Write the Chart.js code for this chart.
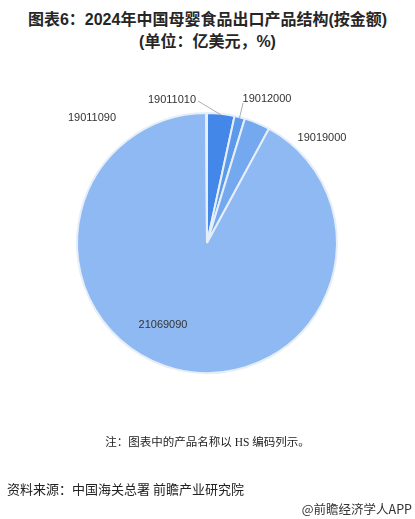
<!DOCTYPE html>
<html>
<head>
<meta charset="utf-8">
<script src="https://cdn.jsdelivr.net/npm/chart.js@4/dist/chart.umd.min.js"></script>
<style>
  body { margin: 0; background: #fff; }
  #wrap { position: relative; width: 415px; height: 519px; overflow: hidden; }
  #pie { position: absolute; left: 0; top: 0; }
  .title { position: absolute; left: 0; width: 415px; text-align: center;
    font-family: "Liberation Sans", "Noto Sans CJK SC", sans-serif; font-weight: bold;
    font-size: 16px; color: #262626; }
  .note { position: absolute; left: 0; width: 415px; text-align: center; top: 433px;
    font-family: "Liberation Serif", "Noto Sans CJK SC", serif; font-size: 11.5px; color: #222; }
  .src { position: absolute; left: 7px; top: 479px; font-family: "Noto Sans CJK SC", sans-serif;
    font-size: 13px; color: #222; }
  .app { position: absolute; right: 3px; top: 499px; font-family: "Noto Sans CJK SC", sans-serif;
    font-size: 12.5px; color: #333; }
</style>
</head>
<body>
<div id="wrap">
  <div class="title" style="top:6px">图表6：2024年中国母婴食品出口产品结构(按金额)</div>
  <div class="title" style="top:28px">(单位：亿美元，%)</div>
  <canvas id="pie" width="415" height="519"></canvas>
  <div class="note">注：图表中的产品名称以 HS 编码列示。</div>
  <div class="src">资料来源：中国海关总署 前瞻产业研究院</div>
  <div class="app">@前瞻经济学人APP</div>
</div>
<script>
// HS codes, clockwise from 12 o'clock
const categories = ['19011010', '19012000', '19019000', '21069090', '19011090'];
// share of export value, %
const shares = [3.4, 1.3, 3.2, 92.0, 0.1];
const sliceColors = ['#4388e8', '#5b99eb', '#74a9ef', '#8fb9f2', '#8fb9f2'];

// where each label sits, and whether it gets a leader line
const labelSpots = [
    { x: 172, y: 100, line: true },
    { x: 267, y: 99, line: true },
    { x: 322, y: 138, line: false },
    { x: 163, y: 325, line: false },
    { x: 92, y: 118, line: false }
];

const labelPlugin = {
    id: 'sliceLabels',
    afterDatasetsDraw(chart) {
        const ctx = chart.ctx;
        const arcs = chart.getDatasetMeta(0).data;
        ctx.save();
        ctx.font = '11px "Liberation Sans", Arial, sans-serif';
        ctx.fillStyle = '#333';
        ctx.textAlign = 'center';
        ctx.textBaseline = 'middle';
        arcs.forEach((arc, i) => {
            const spot = labelSpots[i];
            ctx.fillText(categories[i], spot.x, spot.y);
            if (spot.line) {
                const p = arc.getProps(['x', 'y', 'startAngle', 'endAngle', 'outerRadius'], true);
                const mid = (p.startAngle + p.endAngle) / 2;
                const ex = p.x + Math.cos(mid) * (p.outerRadius - 1);
                const ey = p.y + Math.sin(mid) * (p.outerRadius - 1);
                const sx = i === 0 ? spot.x + 26 : spot.x - 24;
                const sy = i === 0 ? spot.y + 1 : spot.y + 4;
                ctx.strokeStyle = '#999';
                ctx.lineWidth = 0.8;
                ctx.beginPath();
                ctx.moveTo(sx, sy);
                ctx.lineTo(ex, ey);
                ctx.stroke();
            }
        });
        ctx.restore();
    }
};

new Chart(document.getElementById('pie'), {
    type: 'pie',
    data: {
        labels: categories,
        datasets: [{
            data: shares,
            backgroundColor: sliceColors,
            borderColor: '#e6eef9',
            borderWidth: 2
        }]
    },
    options: {
        responsive: false,
        animation: false,
        layout: { padding: { left: 76, right: 77, top: 112, bottom: 145 } },
        plugins: {
            legend: { display: false },
            tooltip: { enabled: false }
        }
    },
    plugins: [labelPlugin]
});
</script>
</body>
</html>
